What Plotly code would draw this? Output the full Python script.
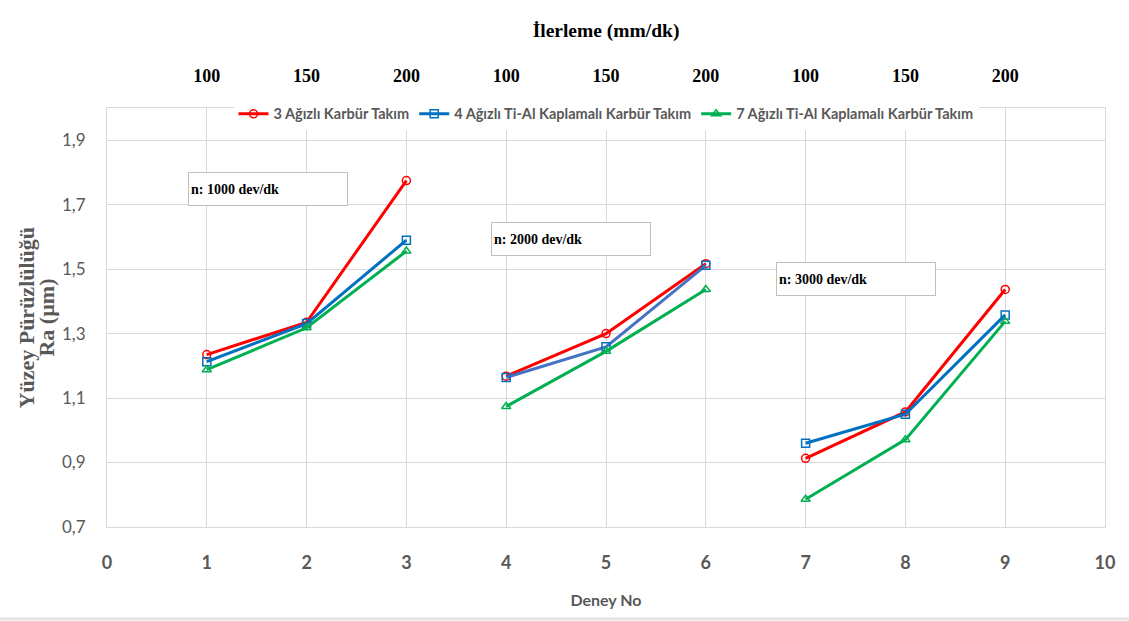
import plotly.graph_objects as go

deney_groups = [[1, 2, 3], [4, 5, 6], [7, 8, 9]]
ilerleme_labels = ["100", "150", "200"] * 3
deney_ticks = [1, 2, 3, 4, 5, 6, 7, 8, 9]

series_names = ["3 Ağızlı Karbür Takım",
                "4 Ağızlı Ti-Al Kaplamalı Karbür Takım",
                "7 Ağızlı Ti-Al Kaplamalı Karbür Takım"]
ra_3_agizli = [1.235, 1.335, 1.775, 1.168, 1.300, 1.517, 0.913, 1.057, 1.437]
ra_4_agizli = [1.213, 1.331, 1.590, 1.164, 1.259, 1.512, 0.960, 1.050, 1.358]
ra_7_agizli = [1.188, 1.318, 1.556, 1.074, 1.245, 1.437, 0.786, 0.971, 1.338]

devir_labels = ["n: 1000 dev/dk", "n: 2000 dev/dk", "n: 3000 dev/dk"]
label_x = [1.61, 4.65, 7.50]
label_y = [1.749, 1.595, 1.468]

y_title_lines = ["Yüzey Pürüzlülüğü", "Ra (µm)"]

colors = ["#FF0000", "#0070C0", "#00B050"]
group_line_colors = [["#FF0000"] * 3, ["#0070C0", "#4472C4", "#0070C0"], ["#00B050"] * 3]
symbols = ["circle-open", "square-open", "triangle-up-open"]

fig = go.Figure()
all_series = [ra_3_agizli, ra_4_agizli, ra_7_agizli]
for si, (name, vals) in enumerate(zip(series_names, all_series)):
    for gi, xs in enumerate(deney_groups):
        ys = [vals[x - 1] for x in xs]
        fig.add_trace(go.Scatter(
            x=xs, y=ys, mode="lines+markers", name=name,
            legendgroup=name, showlegend=(gi == 0),
            line=dict(color=group_line_colors[si][gi], width=3),
            marker=dict(symbol=symbols[si], size=8, color=colors[si],
                        line=dict(width=1.5, color=colors[si])),
        ))

# invisible trace for top axis
fig.add_trace(go.Scatter(x=deney_ticks, y=ra_3_agizli, xaxis="x2", mode="markers",
                         marker=dict(opacity=0), showlegend=False, hoverinfo="skip"))

for t, xx, yy in zip(devir_labels, label_x, label_y):
    fig.add_annotation(x=xx, y=yy, xref="x", yref="y", text="<b>" + t + "</b>",
                       showarrow=False, width=154, height=28, align="left",
                       bordercolor="#BFBFBF", borderwidth=1, borderpad=2,
                       bgcolor="white",
                       font=dict(family="Liberation Serif", size=14, color="#000000"))

gray = "#595959"
grid = "#D9D9D9"
for line_text, px in zip(y_title_lines, [-0.0802, -0.0611]):
    fig.add_annotation(x=px, y=0.5, xref="paper", yref="paper", text="<b>" + line_text + "</b>",
                       showarrow=False, textangle=-90, xanchor="center", yanchor="middle",
                       font=dict(family="Liberation Serif", size=22, color=gray))

# light frame line at the bottom of the picture
fig.add_shape(type="line", xref="paper", yref="paper",
              x0=-0.11, x1=1.03, y0=-0.2196, y1=-0.2196,
              line=dict(color="#E3E3E3", width=3))

fig.update_layout(
    width=1129, height=621,
    margin=dict(l=107, r=24, t=108, b=94),
    paper_bgcolor="white", plot_bgcolor="white",
    separators=",.",
    xaxis=dict(range=[0, 10], dtick=1, tick0=0, showgrid=True, gridcolor=grid, gridwidth=1,
               showline=True, linecolor=grid, mirror=True, zeroline=False, automargin=False,
               ticks="outside", ticklen=19, tickcolor="rgba(0,0,0,0)",
               tickfont=dict(family="Lato", size=18, color=gray, weight="bold"),
               title=dict(text="<b>Deney No</b>", standoff=23,
                          font=dict(family="Lato", size=16, color=gray))),
    xaxis2=dict(range=[0, 10], overlaying="x", side="top", anchor="y", automargin=False,
                tickmode="array", tickvals=deney_ticks, ticktext=ilerleme_labels,
                showgrid=False, showline=False, zeroline=False,
                ticks="outside", ticklen=18, tickcolor="rgba(0,0,0,0)",
                tickfont=dict(family="Liberation Serif", size=18, color="#000000", weight="bold"),
                title=dict(text="<b>İlerleme (mm/dk)</b>", standoff=22,
                           font=dict(family="Liberation Serif", size=19.5, color="#000000"))),
    yaxis=dict(range=[0.7, 2.0], tick0=0.7, dtick=0.2, tickformat=".1f",
               showgrid=True, gridcolor=grid, gridwidth=1, automargin=False,
               showline=True, linecolor=grid, mirror=True, zeroline=False,
               ticks="outside", ticklen=17, tickcolor="rgba(0,0,0,0)",
               tickfont=dict(family="Lato", size=17, color=gray)),
    legend=dict(orientation="h", x=0.5, xanchor="center", y=0.986, yanchor="middle",
                bgcolor="white",
                font=dict(family="Liberation Sans Narrow, Lato", size=14.5, color=gray, weight="bold"),
                itemwidth=30, tracegroupgap=0),
)

fig.write_html("out.html", config={"displayModeBar": False},
               post_script="document.body.style.margin='0';")
